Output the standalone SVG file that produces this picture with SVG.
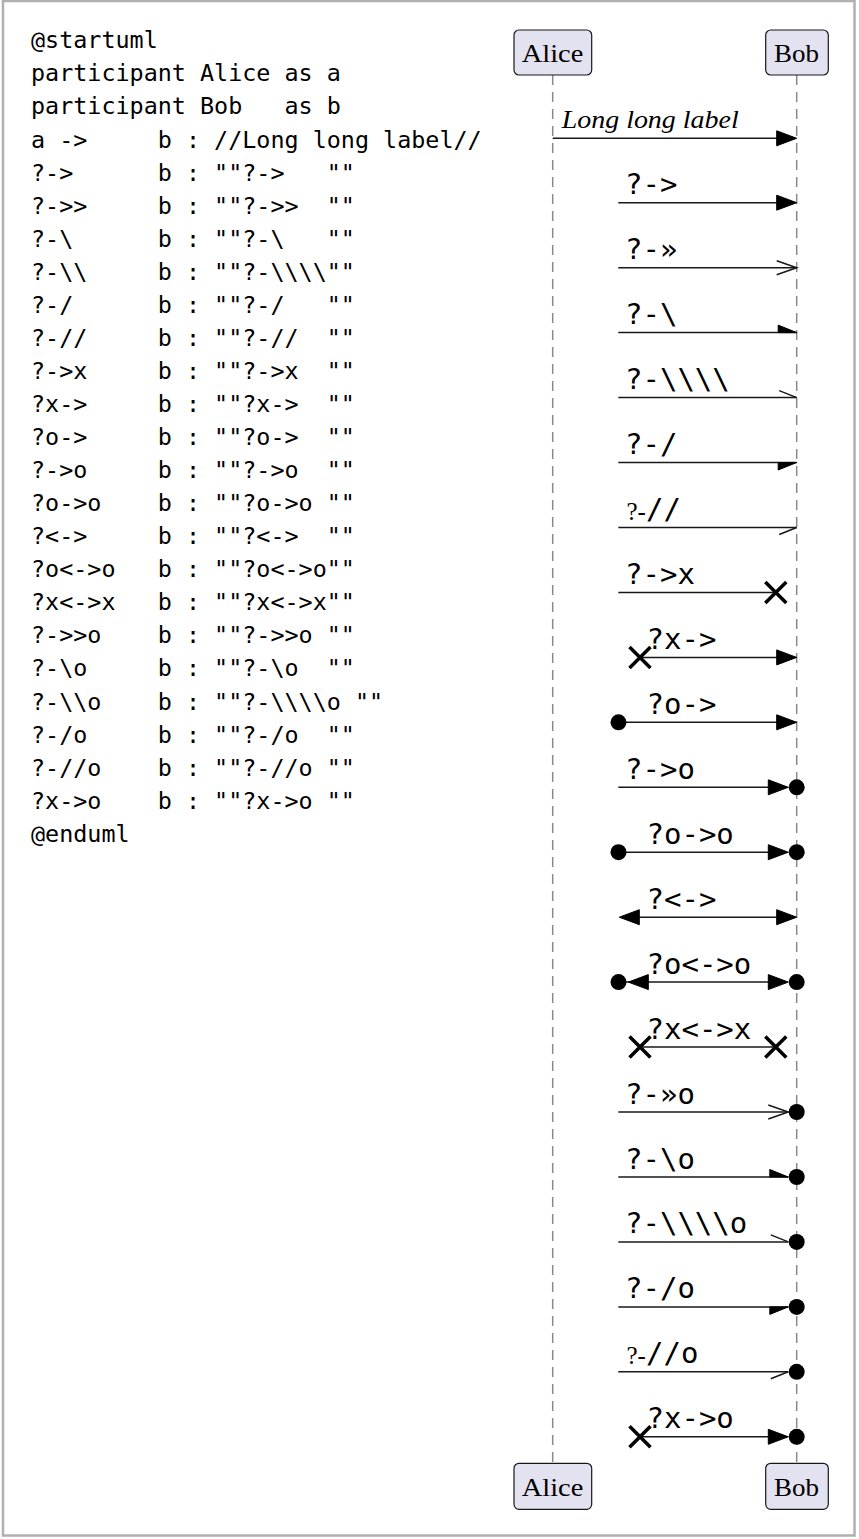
<svg xmlns="http://www.w3.org/2000/svg" xmlns:xlink="http://www.w3.org/1999/xlink" width="859" height="1539" viewBox="0 0 859 1539">
<style>
.code{font-family:"DejaVu Sans Mono","Liberation Mono",monospace;font-size:23.4px;fill:#000;white-space:pre}
.lbl{font-family:"DejaVu Sans Mono","Liberation Mono",monospace;font-size:29px;fill:#000;white-space:pre}
.ser{font-family:"Liberation Serif","DejaVu Serif",serif;fill:#000}
.box{fill:#E2E2F0;stroke:#181818;stroke-width:1.2}
.life{stroke:#8a8a8a;stroke-width:1.5;stroke-dasharray:10,7;fill:none}
.ln{stroke:#181818;stroke-width:1.5;fill:none}
.ah{fill:#000;stroke:#000;stroke-width:1}
.oh{fill:none;stroke:#181818;stroke-width:1.5}
.xm{fill:none;stroke:#000;stroke-width:3.5}
.dt{fill:#000}
</style>
<defs>
<polygon id="fa" class="ah" points="0,0 -20,-7.5 -20,7.5"/>
<polygon id="fl" class="ah" points="0,0 20,-7.5 20,7.5"/>
<path id="oa" class="oh" d="M-20,-7 L0,0 L-20,7"/>
<polygon id="hu" class="ah" points="0,0 -18.5,-7.5 -18.5,0"/>
<polygon id="hd" class="ah" points="0,0 -18.5,7.5 -18.5,0"/>
<path id="lu" class="oh" d="M-17.5,-7 L0,0"/>
<path id="ld" class="oh" d="M-17.5,7 L0,0"/>
<path id="xx" class="xm" d="M-10.5,-10.5 L10.5,10.5 M-10.5,10.5 L10.5,-10.5"/>
<circle id="dt" class="dt" cx="0" cy="0" r="8"/>
</defs>
<rect x="3" y="1" width="851.5" height="1534.5" fill="#fff" stroke="#b0b0b0" stroke-width="2.5"/>
<g id="source-code">
<text class="code" xml:space="preserve" x="31" y="48.3">@startuml</text>
<text class="code" xml:space="preserve" x="31" y="81.4">participant Alice as a</text>
<text class="code" xml:space="preserve" x="31" y="114.4">participant Bob   as b</text>
<text class="code" xml:space="preserve" x="31" y="147.5">a -&gt;     b : //Long long label//</text>
<text class="code" xml:space="preserve" x="31" y="180.5">?-&gt;      b : ""?-&gt;   ""</text>
<text class="code" xml:space="preserve" x="31" y="213.6">?-&gt;&gt;     b : ""?-&gt;&gt;  ""</text>
<text class="code" xml:space="preserve" x="31" y="246.7">?-\      b : ""?-\   ""</text>
<text class="code" xml:space="preserve" x="31" y="279.7">?-\\     b : ""?-\\\\""</text>
<text class="code" xml:space="preserve" x="31" y="312.8">?-/      b : ""?-/   ""</text>
<text class="code" xml:space="preserve" x="31" y="345.8">?-//     b : ""?-//  ""</text>
<text class="code" xml:space="preserve" x="31" y="378.9">?-&gt;x     b : ""?-&gt;x  ""</text>
<text class="code" xml:space="preserve" x="31" y="412.0">?x-&gt;     b : ""?x-&gt;  ""</text>
<text class="code" xml:space="preserve" x="31" y="445.0">?o-&gt;     b : ""?o-&gt;  ""</text>
<text class="code" xml:space="preserve" x="31" y="478.1">?-&gt;o     b : ""?-&gt;o  ""</text>
<text class="code" xml:space="preserve" x="31" y="511.1">?o-&gt;o    b : ""?o-&gt;o ""</text>
<text class="code" xml:space="preserve" x="31" y="544.2">?&lt;-&gt;     b : ""?&lt;-&gt;  ""</text>
<text class="code" xml:space="preserve" x="31" y="577.3">?o&lt;-&gt;o   b : ""?o&lt;-&gt;o""</text>
<text class="code" xml:space="preserve" x="31" y="610.3">?x&lt;-&gt;x   b : ""?x&lt;-&gt;x""</text>
<text class="code" xml:space="preserve" x="31" y="643.4">?-&gt;&gt;o    b : ""?-&gt;&gt;o ""</text>
<text class="code" xml:space="preserve" x="31" y="676.4">?-\o     b : ""?-\o  ""</text>
<text class="code" xml:space="preserve" x="31" y="709.5">?-\\o    b : ""?-\\\\o ""</text>
<text class="code" xml:space="preserve" x="31" y="742.6">?-/o     b : ""?-/o  ""</text>
<text class="code" xml:space="preserve" x="31" y="775.6">?-//o    b : ""?-//o ""</text>
<text class="code" xml:space="preserve" x="31" y="808.7">?x-&gt;o    b : ""?x-&gt;o ""</text>
<text class="code" xml:space="preserve" x="31" y="841.7">@enduml</text>
</g>
<g id="lifelines">
<line class="life" x1="552.7" y1="75" x2="552.7" y2="1463"/>
<line class="life" x1="796.7" y1="75" x2="796.7" y2="1463"/>
</g>
<g id="alice">
<rect class="box" x="514" y="30" width="77.7" height="45" rx="5"/>
<text class="ser" x="521.7" y="62" font-size="26" textLength="61.6" lengthAdjust="spacingAndGlyphs">Alice</text>
</g>
<g id="bob">
<rect class="box" x="765.7" y="30" width="62.6" height="45" rx="5"/>
<text class="ser" x="774" y="62" font-size="26" textLength="45" lengthAdjust="spacingAndGlyphs">Bob</text>
</g>
<g id="alice-bottom">
<rect class="box" x="514" y="1463.3" width="77.7" height="46" rx="5"/>
<text class="ser" x="521.7" y="1495.5" font-size="26" textLength="61.6" lengthAdjust="spacingAndGlyphs">Alice</text>
</g>
<g id="bob-bottom">
<rect class="box" x="765.7" y="1463.3" width="62.6" height="46" rx="5"/>
<text class="ser" x="774" y="1495.5" font-size="26" textLength="45" lengthAdjust="spacingAndGlyphs">Bob</text>
</g>
<g id="connectors">
<line class="ln" x1="552.7" y1="138.3" x2="790" y2="138.3"/>
<use href="#fa" x="796.7" y="138.3"/>
<text class="ser" x="561.7" y="128.3" font-size="26" font-style="italic" textLength="177" lengthAdjust="spacingAndGlyphs">Long long label</text>
<line class="ln" x1="618.3" y1="202.7" x2="790" y2="202.7"/>
<use href="#fa" x="796.7" y="202.7"/>
<text class="lbl" xml:space="preserve" x="625" y="194.2">?-&gt;</text>
<line class="ln" x1="618.3" y1="267.7" x2="796.7" y2="267.7"/>
<use href="#oa" x="796.7" y="267.7"/>
<text class="lbl" xml:space="preserve" x="625" y="259.2">?-»</text>
<line class="ln" x1="618.3" y1="332.6" x2="796.7" y2="332.6"/>
<use href="#hu" x="796.7" y="332.6"/>
<text class="lbl" xml:space="preserve" x="625" y="324.1">?-\</text>
<line class="ln" x1="618.3" y1="397.6" x2="796.7" y2="397.6"/>
<use href="#lu" x="796.7" y="397.6"/>
<text class="lbl" xml:space="preserve" x="625" y="389.1">?-\\\\</text>
<line class="ln" x1="618.3" y1="462.5" x2="796.7" y2="462.5"/>
<use href="#hd" x="796.7" y="462.5"/>
<text class="lbl" xml:space="preserve" x="625" y="454">?-/</text>
<line class="ln" x1="618.3" y1="527.5" x2="796.7" y2="527.5"/>
<use href="#ld" x="796.7" y="527.5"/>
<text class="ser" x="626.5" y="519.5" font-size="25">?-</text>
<text class="lbl" xml:space="preserve" x="646" y="519">//</text>
<line class="ln" x1="618.3" y1="592.4" x2="775.8" y2="592.4"/>
<use href="#xx" x="775.8" y="592.4"/>
<text class="lbl" xml:space="preserve" x="625" y="583.9">?-&gt;x</text>
<line class="ln" x1="640" y1="657.4" x2="790" y2="657.4"/>
<use href="#xx" x="640" y="657.4"/>
<use href="#fa" x="796.7" y="657.4"/>
<text class="lbl" xml:space="preserve" x="646.5" y="648.9">?x-&gt;</text>
<line class="ln" x1="618.5" y1="722.3" x2="790" y2="722.3"/>
<use href="#dt" x="618.5" y="722.3"/>
<use href="#fa" x="796.7" y="722.3"/>
<text class="lbl" xml:space="preserve" x="646.5" y="713.8">?o-&gt;</text>
<line class="ln" x1="618.3" y1="787.3" x2="782" y2="787.3"/>
<use href="#fa" x="788.3" y="787.3"/>
<use href="#dt" x="796.7" y="787.3"/>
<text class="lbl" xml:space="preserve" x="625" y="778.8">?-&gt;o</text>
<line class="ln" x1="618.5" y1="852.2" x2="782" y2="852.2"/>
<use href="#dt" x="618.5" y="852.2"/>
<use href="#fa" x="788.3" y="852.2"/>
<use href="#dt" x="796.7" y="852.2"/>
<text class="lbl" xml:space="preserve" x="646.5" y="843.7">?o-&gt;o</text>
<line class="ln" x1="626" y1="917.2" x2="790" y2="917.2"/>
<use href="#fl" x="619.3" y="917.2"/>
<use href="#fa" x="796.7" y="917.2"/>
<text class="lbl" xml:space="preserve" x="646.5" y="908.7">?&lt;-&gt;</text>
<line class="ln" x1="618.5" y1="982.1" x2="782" y2="982.1"/>
<use href="#dt" x="618.5" y="982.1"/>
<use href="#fl" x="628.3" y="982.1"/>
<use href="#fa" x="788.3" y="982.1"/>
<use href="#dt" x="796.7" y="982.1"/>
<text class="lbl" xml:space="preserve" x="646.5" y="973.6">?o&lt;-&gt;o</text>
<line class="ln" x1="640" y1="1047.1" x2="775.8" y2="1047.1"/>
<use href="#xx" x="640" y="1047.1"/>
<use href="#xx" x="775.8" y="1047.1"/>
<text class="lbl" xml:space="preserve" x="646.5" y="1038.6">?x&lt;-&gt;x</text>
<line class="ln" x1="618.3" y1="1112" x2="788.3" y2="1112"/>
<use href="#oa" x="788.3" y="1112"/>
<use href="#dt" x="796.7" y="1112"/>
<text class="lbl" xml:space="preserve" x="625" y="1103.5">?-»o</text>
<line class="ln" x1="618.3" y1="1177" x2="788.3" y2="1177"/>
<use href="#hu" x="788.3" y="1177"/>
<use href="#dt" x="796.7" y="1177"/>
<text class="lbl" xml:space="preserve" x="625" y="1168.5">?-\o</text>
<line class="ln" x1="618.3" y1="1241.9" x2="788.3" y2="1241.9"/>
<use href="#lu" x="788.3" y="1241.9"/>
<use href="#dt" x="796.7" y="1241.9"/>
<text class="lbl" xml:space="preserve" x="625" y="1233.4">?-\\\\o</text>
<line class="ln" x1="618.3" y1="1306.9" x2="788.3" y2="1306.9"/>
<use href="#hd" x="788.3" y="1306.9"/>
<use href="#dt" x="796.7" y="1306.9"/>
<text class="lbl" xml:space="preserve" x="625" y="1298.4">?-/o</text>
<line class="ln" x1="618.3" y1="1371.8" x2="788.3" y2="1371.8"/>
<use href="#ld" x="788.3" y="1371.8"/>
<use href="#dt" x="796.7" y="1371.8"/>
<text class="ser" x="626.5" y="1363.8" font-size="25">?-</text>
<text class="lbl" xml:space="preserve" x="646" y="1363.3">//o</text>
<line class="ln" x1="640" y1="1436.8" x2="782" y2="1436.8"/>
<use href="#xx" x="640" y="1436.8"/>
<use href="#fa" x="788.3" y="1436.8"/>
<use href="#dt" x="796.7" y="1436.8"/>
<text class="lbl" xml:space="preserve" x="646.5" y="1428.3">?x-&gt;o</text>
</g>
</svg>
